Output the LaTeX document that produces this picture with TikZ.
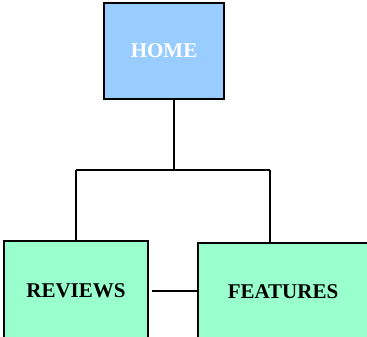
\documentclass[tikz,border=0pt]{standalone}
\usepackage{fontspec}
\setmainfont{Liberation Serif}
\usepackage{tikz}
\definecolor{home}{HTML}{99CCFF}
\definecolor{page}{HTML}{99FFCC}
\tikzset{home/.style={draw=black,fill=home,rectangle,line width=1.2pt,text=white,font=\fontsize{21}{25}\selectfont\bfseries}}
\tikzset{page/.style={draw=black,fill=page,rectangle,line width=1.2pt,text=black,font=\fontsize{21}{25}\selectfont\bfseries}}

\begin{document}
\begin{tikzpicture}[x=1pt,y=-1pt]
    \useasboundingbox (0,0) rectangle (367,337);
    \clip (0,0) rectangle (367,337);

    \node[home,minimum width=120pt,minimum height=96pt] (home) at (164,51) {HOME};

    \node[page,minimum width=144pt,minimum height=100pt] (reviews) at (76,291) {REVIEWS};

    \node[page,minimum width=170pt,minimum height=98pt] (features) at (283,292) {FEATURES};

    \coordinate (split) at (174,170);
    \coordinate (left) at (76,170);
    \coordinate (right) at (270,170);

    \draw[line width=1.2pt] (home.south -| split) -- (split);
    \draw[line width=1.2pt] (left) -- (right);
    \draw[line width=1.2pt] (left) -- (left |- reviews.north);
    \draw[line width=1.2pt] (right) -- (right |- features.north);
    \draw[line width=1.2pt] ([xshift=3pt]reviews.east) -- (reviews.east -| features.west);
  \end{tikzpicture}
\end{document}
